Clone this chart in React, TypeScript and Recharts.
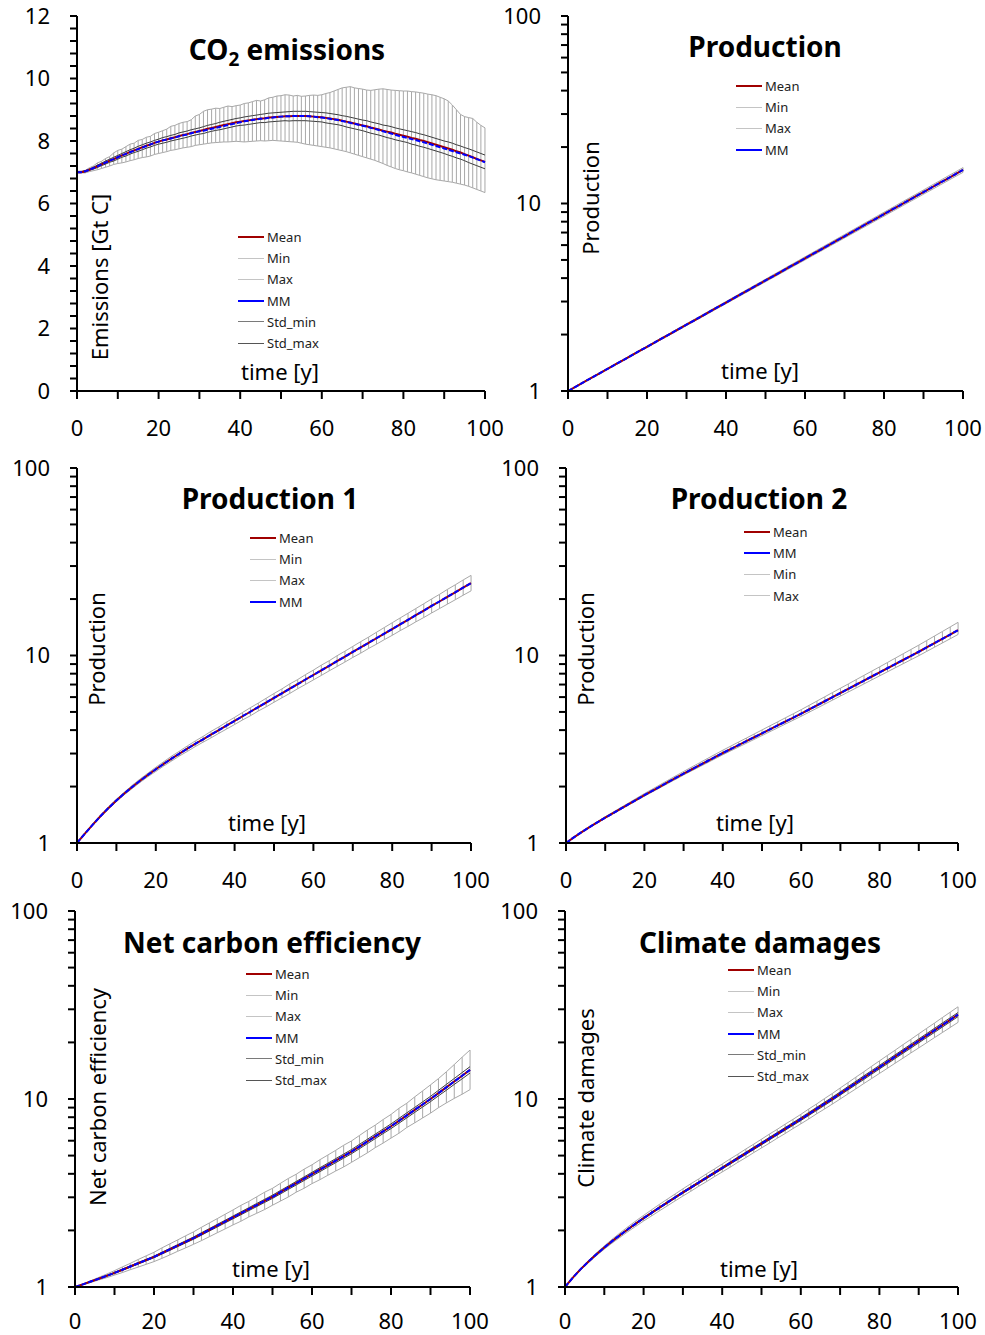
import React from "react";
import { ComposedChart, Line, Bar, XAxis, YAxis } from "recharts";

// time axes: yearly for the emissions panel, every 2 years for the others
const years1 = Array.from({ length: 101 }, (_, i) => i);
const years2 = Array.from({ length: 51 }, (_, i) => i * 2);

// ---- CO2 emissions [Gt C] ----
const mean1 = [
  7.00, 7.00, 7.03, 7.08, 7.13, 7.19, 7.25, 7.31, 7.37, 7.42,
  7.48, 7.54, 7.59, 7.65, 7.70, 7.75, 7.80, 7.85, 7.89, 7.94,
  7.98, 8.02, 8.05, 8.09, 8.12, 8.16, 8.19, 8.22, 8.26, 8.29,
  8.32, 8.35, 8.39, 8.42, 8.45, 8.48, 8.51, 8.54, 8.57, 8.60,
  8.62, 8.64, 8.66, 8.68, 8.70, 8.72, 8.73, 8.75, 8.76, 8.77,
  8.78, 8.79, 8.79, 8.80, 8.80, 8.80, 8.80, 8.79, 8.78, 8.77,
  8.76, 8.74, 8.72, 8.70, 8.68, 8.65, 8.62, 8.59, 8.56, 8.53,
  8.50, 8.47, 8.43, 8.40, 8.37, 8.33, 8.30, 8.27, 8.23, 8.20,
  8.17, 8.14, 8.10, 8.07, 8.03, 8.00, 7.96, 7.92, 7.88, 7.84,
  7.80, 7.76, 7.72, 7.67, 7.63, 7.58, 7.53, 7.48, 7.43, 7.38,
  7.33,
];
const mm1 = [
  7.00, 7.00, 7.03, 7.08, 7.13, 7.19, 7.25, 7.31, 7.37, 7.42,
  7.48, 7.54, 7.59, 7.64, 7.69, 7.74, 7.79, 7.84, 7.89, 7.94,
  7.98, 8.02, 8.05, 8.08, 8.11, 8.15, 8.18, 8.21, 8.25, 8.28,
  8.31, 8.33, 8.36, 8.39, 8.42, 8.45, 8.48, 8.51, 8.54, 8.57,
  8.60, 8.63, 8.65, 8.67, 8.69, 8.71, 8.72, 8.74, 8.75, 8.77,
  8.78, 8.79, 8.79, 8.80, 8.80, 8.80, 8.80, 8.79, 8.78, 8.76,
  8.75, 8.73, 8.71, 8.69, 8.67, 8.64, 8.61, 8.58, 8.55, 8.52,
  8.49, 8.46, 8.42, 8.39, 8.35, 8.31, 8.27, 8.24, 8.20, 8.16,
  8.13, 8.10, 8.06, 8.03, 7.99, 7.96, 7.92, 7.88, 7.84, 7.80,
  7.76, 7.72, 7.68, 7.64, 7.60, 7.56, 7.52, 7.47, 7.42, 7.37,
  7.32,
];
const smax1 = [
  7.01, 7.01, 7.05, 7.10, 7.16, 7.23, 7.29, 7.36, 7.42, 7.48,
  7.54, 7.60, 7.66, 7.72, 7.77, 7.83, 7.88, 7.93, 7.97, 8.02,
  8.06, 8.11, 8.14, 8.18, 8.21, 8.26, 8.29, 8.32, 8.36, 8.39,
  8.42, 8.46, 8.50, 8.53, 8.56, 8.60, 8.63, 8.66, 8.69, 8.72,
  8.74, 8.77, 8.79, 8.81, 8.83, 8.85, 8.87, 8.89, 8.90, 8.91,
  8.92, 8.93, 8.94, 8.95, 8.95, 8.95, 8.95, 8.94, 8.93, 8.92,
  8.91, 8.90, 8.88, 8.86, 8.84, 8.81, 8.79, 8.76, 8.73, 8.70,
  8.67, 8.65, 8.61, 8.58, 8.55, 8.51, 8.49, 8.46, 8.42, 8.39,
  8.36, 8.33, 8.30, 8.27, 8.23, 8.20, 8.16, 8.12, 8.08, 8.04,
  8.00, 7.97, 7.93, 7.88, 7.84, 7.79, 7.75, 7.70, 7.65, 7.60,
  7.55,
];
const smin1 = [
  6.99, 6.99, 7.01, 7.06, 7.10, 7.15, 7.21, 7.26, 7.32, 7.36,
  7.42, 7.48, 7.52, 7.58, 7.63, 7.67, 7.72, 7.77, 7.81, 7.86,
  7.90, 7.93, 7.96, 8.00, 8.03, 8.06, 8.09, 8.12, 8.16, 8.19,
  8.22, 8.24, 8.28, 8.31, 8.34, 8.36, 8.39, 8.42, 8.45, 8.48,
  8.50, 8.51, 8.53, 8.55, 8.57, 8.59, 8.59, 8.61, 8.62, 8.63,
  8.64, 8.65, 8.64, 8.65, 8.65, 8.65, 8.65, 8.64, 8.63, 8.62,
  8.61, 8.58, 8.56, 8.54, 8.52, 8.49, 8.45, 8.42, 8.39, 8.36,
  8.33, 8.29, 8.25, 8.22, 8.19, 8.15, 8.11, 8.08, 8.04, 8.01,
  7.98, 7.95, 7.90, 7.87, 7.83, 7.80, 7.76, 7.72, 7.68, 7.64,
  7.60, 7.55, 7.51, 7.46, 7.42, 7.37, 7.31, 7.26, 7.21, 7.16,
  7.11,
];
const max1 = [
  7.03, 7.04, 7.06, 7.14, 7.20, 7.30, 7.35, 7.44, 7.50, 7.62,
  7.70, 7.74, 7.82, 7.90, 7.93, 8.02, 8.05, 8.12, 8.15, 8.24,
  8.28, 8.33, 8.38, 8.47, 8.50, 8.56, 8.60, 8.62, 8.68, 8.80,
  8.85, 8.95, 9.00, 9.02, 9.05, 9.04, 9.08, 9.12, 9.10, 9.13,
  9.15, 9.20, 9.22, 9.26, 9.30, 9.28, 9.32, 9.38, 9.40, 9.44,
  9.45, 9.48, 9.47, 9.44, 9.46, 9.43, 9.44, 9.46, 9.47, 9.46,
  9.48, 9.52, 9.55, 9.60, 9.65, 9.70, 9.72, 9.74, 9.70, 9.68,
  9.66, 9.63, 9.62, 9.64, 9.66, 9.67, 9.65, 9.63, 9.62, 9.61,
  9.60, 9.60, 9.58, 9.57, 9.55, 9.53, 9.50, 9.48, 9.45, 9.40,
  9.35, 9.28, 9.15, 9.00, 8.85, 8.78, 8.75, 8.72, 8.60, 8.50,
  8.42,
];
const min1 = [
  6.98, 6.98, 6.98, 7.02, 7.05, 7.08, 7.12, 7.16, 7.20, 7.25,
  7.28, 7.30, 7.33, 7.37, 7.40, 7.44, 7.47, 7.49, 7.52, 7.57,
  7.60, 7.63, 7.66, 7.70, 7.72, 7.75, 7.78, 7.80, 7.82, 7.86,
  7.88, 7.90, 7.92, 7.94, 7.95, 7.96, 7.97, 7.97, 7.98, 7.99,
  7.98, 7.97, 7.98, 7.99, 8.00, 8.01, 8.00, 8.01, 8.02, 8.01,
  8.00, 7.99, 7.98, 7.97, 7.96, 7.93, 7.90, 7.88, 7.86, 7.84,
  7.82, 7.80, 7.78, 7.75, 7.72, 7.69, 7.66, 7.62, 7.58, 7.54,
  7.50, 7.46, 7.42, 7.38, 7.33, 7.28, 7.22, 7.17, 7.12, 7.08,
  7.05, 7.01, 6.98, 6.94, 6.90, 6.86, 6.82, 6.79, 6.76, 6.74,
  6.72, 6.70, 6.68, 6.65, 6.62, 6.59, 6.55, 6.50, 6.45, 6.40,
  6.35,
];

// ---- Production ----
const mean2 = [
  1.000, 1.056, 1.115, 1.177, 1.243, 1.312, 1.385, 1.463, 1.544, 1.630,
  1.721, 1.817, 1.919, 2.026, 2.139, 2.258, 2.384, 2.517, 2.658, 2.806,
  2.962, 3.128, 3.302, 3.486, 3.681, 3.886, 4.103, 4.332, 4.574, 4.829,
  5.098, 5.383, 5.683, 6.000, 6.335, 6.688, 7.062, 7.456, 7.872, 8.311,
  8.774, 9.264, 9.781, 10.33, 10.90, 11.51, 12.15, 12.83, 13.55, 14.30,
  15.10,
];
const max2 = [
  1.000, 1.060, 1.121, 1.183, 1.250, 1.320, 1.395, 1.473, 1.556, 1.643,
  1.736, 1.833, 1.938, 2.046, 2.163, 2.283, 2.413, 2.547, 2.693, 2.842,
  3.003, 3.172, 3.352, 3.538, 3.740, 3.948, 4.173, 4.406, 4.656, 4.916,
  5.195, 5.485, 5.797, 6.120, 6.468, 6.828, 7.217, 7.620, 8.053, 8.502,
  8.985, 9.486, 10.03, 10.59, 11.18, 11.81, 12.48, 13.18, 13.93, 14.70,
  15.54,
];
const min2 = [
  1.000, 1.052, 1.109, 1.171, 1.236, 1.304, 1.375, 1.453, 1.532, 1.617,
  1.706, 1.801, 1.900, 2.006, 2.115, 2.233, 2.355, 2.487, 2.623, 2.770,
  2.921, 3.084, 3.252, 3.434, 3.622, 3.824, 4.033, 4.258, 4.492, 4.742,
  5.001, 5.281, 5.569, 5.880, 6.202, 6.548, 6.907, 7.292, 7.691, 8.120,
  8.563, 9.042, 9.536, 10.07, 10.62, 11.21, 11.82, 12.48, 13.17, 13.90,
  14.66,
];

// ---- Production 1 ----
const mean3 = [
  1.000, 1.122, 1.253, 1.393, 1.538, 1.687, 1.837, 1.991, 2.148, 2.307,
  2.472, 2.642, 2.818, 2.999, 3.184, 3.381, 3.573, 3.784, 3.999, 4.236,
  4.477, 4.742, 5.012, 5.309, 5.610, 5.943, 6.281, 6.653, 7.031, 7.447,
  7.870, 8.337, 8.810, 9.333, 9.863, 10.45, 11.04, 11.69, 12.36, 13.09,
  13.84, 14.66, 15.49, 16.41, 17.34, 18.37, 19.41, 20.56, 21.73, 23.01,
  24.32,
];
const max3 = [
  1.000, 1.126, 1.262, 1.406, 1.558, 1.712, 1.866, 2.031, 2.193, 2.358,
  2.536, 2.713, 2.903, 3.089, 3.292, 3.499, 3.702, 3.939, 4.159, 4.422,
  4.678, 4.965, 5.268, 5.574, 5.913, 6.270, 6.633, 7.052, 7.439, 7.909,
  8.358, 8.879, 9.374, 9.968, 10.54, 11.18, 11.85, 12.53, 13.30, 14.10,
  14.95, 15.85, 16.79, 17.80, 18.87, 20.02, 21.18, 22.51, 23.82, 25.27,
  26.75,
];
const min3 = [
  1.000, 1.118, 1.244, 1.381, 1.518, 1.662, 1.808, 1.952, 2.104, 2.257,
  2.409, 2.573, 2.736, 2.912, 3.079, 3.267, 3.449, 3.635, 3.845, 4.057,
  4.284, 4.529, 4.769, 5.056, 5.323, 5.633, 5.948, 6.276, 6.646, 7.012,
  7.411, 7.828, 8.280, 8.739, 9.226, 9.766, 10.29, 10.90, 11.49, 12.15,
  12.81, 13.56, 14.29, 15.12, 15.94, 16.85, 17.79, 18.78, 19.83, 20.96,
  22.11,
];

// ---- Production 2 ----
const mean4 = [
  1.000, 1.072, 1.143, 1.216, 1.288, 1.365, 1.442, 1.524, 1.611, 1.702,
  1.799, 1.897, 2.000, 2.109, 2.223, 2.344, 2.466, 2.594, 2.729, 2.871,
  3.020, 3.170, 3.327, 3.491, 3.664, 3.846, 4.036, 4.236, 4.446, 4.667,
  4.898, 5.152, 5.420, 5.702, 5.998, 6.310, 6.637, 6.982, 7.345, 7.727,
  8.128, 8.551, 8.995, 9.462, 9.954, 10.47, 11.04, 11.64, 12.27, 12.94,
  13.65,
];
const max4 = [
  1.000, 1.075, 1.149, 1.225, 1.300, 1.381, 1.461, 1.547, 1.637, 1.733,
  1.835, 1.937, 2.046, 2.160, 2.281, 2.407, 2.538, 2.672, 2.816, 2.966,
  3.126, 3.284, 3.453, 3.627, 3.814, 4.008, 4.214, 4.427, 4.655, 4.891,
  5.143, 5.420, 5.713, 6.021, 6.346, 6.689, 7.048, 7.429, 7.830, 8.252,
  8.697, 9.175, 9.679, 10.21, 10.77, 11.36, 12.01, 12.70, 13.42, 14.20,
  15.02,
];
const min4 = [
  1.000, 1.070, 1.140, 1.211, 1.282, 1.355, 1.430, 1.510, 1.595, 1.683,
  1.777, 1.872, 1.972, 2.077, 2.187, 2.304, 2.422, 2.545, 2.674, 2.811,
  2.954, 3.097, 3.247, 3.404, 3.569, 3.742, 3.923, 4.113, 4.313, 4.522,
  4.741, 4.982, 5.236, 5.502, 5.782, 6.076, 6.385, 6.710, 7.051, 7.410,
  7.787, 8.183, 8.599, 9.036, 9.496, 9.977, 10.51, 11.07, 11.66, 12.28,
  12.94,
];

// ---- Net carbon efficiency ----
const mean5 = [
  1.000, 1.033, 1.069, 1.107, 1.146, 1.189, 1.236, 1.285, 1.337, 1.390,
  1.445, 1.514, 1.585, 1.660, 1.738, 1.820, 1.914, 2.014, 2.118, 2.228,
  2.344, 2.466, 2.594, 2.729, 2.871, 3.020, 3.192, 3.373, 3.565, 3.767,
  3.981, 4.207, 4.446, 4.699, 4.966, 5.248, 5.585, 5.943, 6.324, 6.730,
  7.161, 7.656, 8.185, 8.750, 9.354, 10.00, 10.74, 11.53, 12.39, 13.30,
  14.29,
];
const max5 = [
  1.000, 1.039, 1.080, 1.125, 1.171, 1.222, 1.279, 1.336, 1.401, 1.464,
  1.530, 1.614, 1.696, 1.780, 1.872, 1.964, 2.077, 2.191, 2.309, 2.437,
  2.569, 2.718, 2.853, 3.018, 3.193, 3.349, 3.559, 3.778, 3.979, 4.234,
  4.467, 4.754, 5.033, 5.333, 5.671, 5.983, 6.395, 6.834, 7.260, 7.773,
  8.278, 8.919, 9.495, 10.26, 11.04, 11.89, 12.83, 13.95, 15.24, 16.69,
  18.21,
];
const min5 = [
  1.000, 1.027, 1.058, 1.090, 1.121, 1.157, 1.194, 1.236, 1.276, 1.320,
  1.365, 1.420, 1.481, 1.549, 1.614, 1.687, 1.764, 1.851, 1.943, 2.037,
  2.139, 2.238, 2.358, 2.467, 2.582, 2.723, 2.863, 3.012, 3.194, 3.351,
  3.548, 3.723, 3.928, 4.140, 4.349, 4.604, 4.878, 5.168, 5.509, 5.827,
  6.195, 6.572, 7.056, 7.466, 7.927, 8.410, 8.987, 9.529, 10.07, 10.60,
  11.22,
];
const smax5 = [
  1.000, 1.034, 1.071, 1.111, 1.152, 1.196, 1.245, 1.295, 1.349, 1.403,
  1.459, 1.531, 1.604, 1.680, 1.761, 1.845, 1.943, 2.044, 2.152, 2.264,
  2.384, 2.510, 2.641, 2.781, 2.926, 3.080, 3.259, 3.444, 3.643, 3.850,
  4.073, 4.308, 4.553, 4.816, 5.090, 5.384, 5.736, 6.103, 6.501, 6.918,
  7.369, 7.886, 8.439, 9.021, 9.653, 10.33, 11.11, 11.95, 12.85, 13.82,
  14.86,
];
const smin5 = [
  1.000, 1.032, 1.067, 1.103, 1.140, 1.182, 1.227, 1.275, 1.325, 1.378,
  1.431, 1.498, 1.566, 1.640, 1.716, 1.795, 1.886, 1.984, 2.085, 2.193,
  2.305, 2.422, 2.548, 2.678, 2.817, 2.961, 3.126, 3.304, 3.488, 3.686,
  3.892, 4.108, 4.342, 4.584, 4.845, 5.115, 5.438, 5.787, 6.152, 6.547,
  6.959, 7.433, 7.939, 8.487, 9.064, 9.681, 10.39, 11.13, 11.95, 12.80,
  13.74,
];

// ---- Climate damages ----
const mean6 = [
  1.000, 1.122, 1.245, 1.368, 1.493, 1.622, 1.754, 1.888, 2.028, 2.173,
  2.323, 2.477, 2.642, 2.812, 2.992, 3.184, 3.381, 3.589, 3.811, 4.046,
  4.295, 4.560, 4.842, 5.140, 5.458, 5.794, 6.152, 6.531, 6.934, 7.362,
  7.816, 8.318, 8.851, 9.419, 10.02, 10.69, 11.40, 12.16, 12.97, 13.84,
  14.76, 15.74, 16.79, 17.91, 19.10, 20.37, 21.73, 23.17, 24.72, 26.36,
  28.12,
];
const max6 = [
  1.000, 1.128, 1.256, 1.386, 1.518, 1.654, 1.796, 1.939, 2.089, 2.245,
  2.404, 2.571, 2.748, 2.930, 3.121, 3.327, 3.540, 3.754, 3.998, 4.240,
  4.510, 4.797, 5.089, 5.418, 5.747, 6.113, 6.503, 6.897, 7.343, 7.789,
  8.285, 8.842, 9.400, 10.04, 10.69, 11.44, 12.21, 13.06, 13.94, 14.92,
  15.94, 17.03, 18.18, 19.45, 20.76, 22.20, 23.73, 25.32, 27.09, 28.94,
  30.93,
];
const min6 = [
  1.000, 1.116, 1.234, 1.350, 1.468, 1.590, 1.713, 1.838, 1.969, 2.104,
  2.244, 2.386, 2.540, 2.699, 2.869, 3.047, 3.229, 3.431, 3.633, 3.861,
  4.090, 4.335, 4.607, 4.877, 5.183, 5.492, 5.820, 6.185, 6.548, 6.958,
  7.374, 7.825, 8.334, 8.836, 9.391, 9.991, 10.64, 11.32, 12.07, 12.84,
  13.67, 14.55, 15.50, 16.49, 17.57, 18.69, 19.90, 21.20, 22.55, 24.01,
  25.56,
];
const smax6 = [
  1.000, 1.123, 1.247, 1.372, 1.499, 1.630, 1.765, 1.899, 2.042, 2.188,
  2.342, 2.497, 2.666, 2.837, 3.022, 3.216, 3.418, 3.628, 3.857, 4.095,
  4.351, 4.619, 4.910, 5.212, 5.540, 5.881, 6.250, 6.635, 7.052, 7.487,
  7.957, 8.468, 9.019, 9.598, 10.22, 10.90, 11.64, 12.42, 13.26, 14.14,
  15.08, 16.10, 17.18, 18.32, 19.56, 20.86, 22.25, 23.75, 25.34, 27.02,
  28.82,
];
const smin6 = [
  1.000, 1.121, 1.243, 1.364, 1.487, 1.614, 1.744, 1.877, 2.014, 2.158,
  2.305, 2.457, 2.618, 2.787, 2.962, 3.152, 3.344, 3.550, 3.766, 3.998,
  4.240, 4.501, 4.775, 5.069, 5.377, 5.708, 6.055, 6.428, 6.818, 7.239,
  7.678, 8.171, 8.686, 9.243, 9.824, 10.48, 11.17, 11.91, 12.69, 13.54,
  14.44, 15.39, 16.41, 17.51, 18.65, 19.89, 21.22, 22.60, 24.12, 25.72,
  27.43,
];

// axis ticks
const xTicks = [0, 10, 20, 30, 40, 50, 60, 70, 80, 90, 100];
const linTicks = Array.from({ length: 31 }, (_, i) => Number((i * 0.4).toFixed(1)));
const logTicks = [1, 2, 3, 4, 5, 6, 7, 8, 9, 10, 20, 30, 40, 50, 60, 70, 80, 90, 100];

const FONT = "'Noto Sans', sans-serif";
const C_MEAN = "#a00000";
const C_MM = "#0000ff";
const C_MINMAX = "#a8a8a8";
const C_STD = "#3c3c3c";

// chart frame around each plot area
const M_TOP = 20, M_RIGHT = 30, M_LEFT = 30, M_BOTTOM = 20, Y_W = 60, X_H = 50;

type Row = Record<string, any>;

function buildRows(years: number[], mean: number[], mm: number[], min: number[], max: number[], smin?: number[], smax?: number[]): Row[] {
  return years.map((t, i) => ({
    t,
    mean: mean[i],
    mm: mm[i],
    min: min[i],
    max: max[i],
    smin: smin ? smin[i] : undefined,
    smax: smax ? smax[i] : undefined,
    range: [min[i], max[i]],
  }));
}

// vertical min-max whisker at each time step
const Whisker = (props: any) => {
  const { x, y, width, height } = props;
  if (x == null || y == null) return null;
  const cx = x + width / 2;
  const top = Math.min(y, y + height);
  const bot = Math.max(y, y + height);
  return <line x1={cx} x2={cx} y1={top} y2={bot} stroke={C_MINMAX} strokeWidth={1} />;
};

type LegendItem = { name: string; color: string; w: number };
const L_MEAN: LegendItem = { name: "Mean", color: C_MEAN, w: 2 };
const L_MIN: LegendItem = { name: "Min", color: "#c4c4c4", w: 1.5 };
const L_MAX: LegendItem = { name: "Max", color: "#c4c4c4", w: 1.5 };
const L_MM: LegendItem = { name: "MM", color: C_MM, w: 2 };
const L_SMIN: LegendItem = { name: "Std_min", color: "#7a7a7a", w: 1.5 };
const L_SMAX: LegendItem = { name: "Std_max", color: "#555555", w: 1.5 };

type PanelSpec = {
  rows: Row[];
  log: boolean;
  std: boolean;
  x0: number; x1: number; y0: number; y1: number;
  xTickMargin: number;
  title: React.ReactNode; titleX: number; titleY: number;
  ylabel: string; ylabelX: number; ylabelY: number;
  timeX: number; timeY: number;
  legendX: number; legendY: number; legend: LegendItem[];
};

const axisStyle = {
  axisLine: { stroke: "#000", strokeWidth: 2 },
  tickLine: { stroke: "#000", strokeWidth: 2 },
  tick: { fontSize: 22, fill: "#000", fontFamily: FONT },
};

function Panel({ p }: { p: PanelSpec }) {
  const w = p.x1 - p.x0 + M_LEFT + Y_W + M_RIGHT;
  const h = p.y1 - p.y0 + M_TOP + X_H + M_BOTTOM;
  const abs = (x: number, y: number): React.CSSProperties => ({
    position: "absolute", left: x, top: y, transform: "translate(-50%, -50%)", whiteSpace: "nowrap", lineHeight: 1,
  });
  return (
    <>
      <div style={{ position: "absolute", left: p.x0 - M_LEFT - Y_W, top: p.y0 - M_TOP }}>
        <ComposedChart width={w} height={h} data={p.rows} margin={{ top: M_TOP, right: M_RIGHT, bottom: M_BOTTOM, left: M_LEFT }}>
          <XAxis
            dataKey="t" type="number" domain={[0, 100]} ticks={xTicks} interval={0}
            tickFormatter={(v: number) => (v % 20 === 0 ? String(v) : "")}
            tickSize={8} tickMargin={p.xTickMargin} height={X_H} {...axisStyle}
          />
          {p.log ? (
            <YAxis
              type="number" scale="log" domain={[1, 100]} ticks={logTicks} interval={0} allowDataOverflow
              tickFormatter={(v: number) => (v === 1 || v === 10 || v === 100 ? String(v) : "")}
              tickSize={7} tickMargin={20} width={Y_W} {...axisStyle}
            />
          ) : (
            <YAxis
              type="number" domain={[0, 12]} ticks={linTicks} interval={0} allowDataOverflow
              tickFormatter={(v: number) => (Math.round(v * 10) % 20 === 0 ? String(v) : "")}
              tickSize={7} tickMargin={20} width={Y_W} {...axisStyle}
            />
          )}
          <Bar dataKey="range" barSize={2} shape={Whisker} isAnimationActive={false} />
          <Line type="linear" dataKey="min" stroke={C_MINMAX} strokeWidth={1} dot={false} isAnimationActive={false} />
          <Line type="linear" dataKey="max" stroke={C_MINMAX} strokeWidth={1} dot={false} isAnimationActive={false} />
          {p.std && <Line type="linear" dataKey="smin" stroke={C_STD} strokeWidth={1} dot={false} isAnimationActive={false} />}
          {p.std && <Line type="linear" dataKey="smax" stroke={C_STD} strokeWidth={1} dot={false} isAnimationActive={false} />}
          <Line type="linear" dataKey="mean" stroke={C_MEAN} strokeWidth={2} dot={false} isAnimationActive={false} />
          <Line type="linear" dataKey="mm" stroke={C_MM} strokeWidth={2} strokeDasharray="5 2" dot={false} isAnimationActive={false} />
        </ComposedChart>
      </div>
      <div style={{ ...abs(p.titleX, p.titleY), fontFamily: FONT, fontWeight: 700, fontSize: 28, color: "#000" }}>{p.title}</div>
      <div style={{ ...abs(p.ylabelX, p.ylabelY), transform: "translate(-50%, -50%) rotate(-90deg)", fontFamily: FONT, fontSize: 22, color: "#000" }}>{p.ylabel}</div>
      <div style={{ ...abs(p.timeX, p.timeY), fontFamily: FONT, fontSize: 22, color: "#000" }}>time [y]</div>
      {p.legend.map((it, i) => (
        <div key={it.name} style={{ position: "absolute", left: p.legendX, top: p.legendY + i * 21.2 - 8, height: 16, display: "flex", alignItems: "center" }}>
          <div style={{ width: 26, height: 0, borderTop: `${it.w}px solid ${it.color}` }} />
          <span style={{ marginLeft: 3, fontFamily: FONT, fontSize: 13, color: "#222" }}>{it.name}</span>
        </div>
      ))}
    </>
  );
}

const panels: PanelSpec[] = [
  {
    rows: buildRows(years1, mean1, mm1, min1, max1, smin1, smax1), log: false, std: true,
    x0: 77, x1: 485, y0: 16, y1: 391, xTickMargin: 21,
    title: <>CO<span style={{ fontSize: 19, position: "relative", top: 6 }}>2</span> emissions</>, titleX: 287, titleY: 49,
    ylabel: "Emissions [Gt C]", ylabelX: 99, ylabelY: 277, timeX: 280, timeY: 371,
    legendX: 238, legendY: 237, legend: [L_MEAN, L_MIN, L_MAX, L_MM, L_SMIN, L_SMAX],
  },
  {
    rows: buildRows(years2, mean2, mean2, min2, max2), log: true, std: false,
    x0: 568, x1: 963, y0: 16, y1: 391, xTickMargin: 21,
    title: "Production", titleX: 765, titleY: 46,
    ylabel: "Production", ylabelX: 590, ylabelY: 198, timeX: 760, timeY: 370,
    legendX: 736, legendY: 86, legend: [L_MEAN, L_MIN, L_MAX, L_MM],
  },
  {
    rows: buildRows(years2, mean3, mean3, min3, max3), log: true, std: false,
    x0: 77, x1: 471, y0: 468, y1: 843, xTickMargin: 21,
    title: "Production 1", titleX: 270, titleY: 498,
    ylabel: "Production", ylabelX: 96, ylabelY: 649, timeX: 267, timeY: 822,
    legendX: 250, legendY: 538, legend: [L_MEAN, L_MIN, L_MAX, L_MM],
  },
  {
    rows: buildRows(years2, mean4, mean4, min4, max4), log: true, std: false,
    x0: 566, x1: 958, y0: 468, y1: 843, xTickMargin: 21,
    title: "Production 2", titleX: 759, titleY: 498,
    ylabel: "Production", ylabelX: 585, ylabelY: 649, timeX: 755, timeY: 822,
    legendX: 744, legendY: 532, legend: [L_MEAN, L_MM, L_MIN, L_MAX],
  },
  {
    rows: buildRows(years2, mean5, mean5, min5, max5, smin5, smax5), log: true, std: true,
    x0: 75, x1: 470, y0: 911, y1: 1287, xTickMargin: 18,
    title: "Net carbon efficiency", titleX: 272, titleY: 942,
    ylabel: "Net carbon efficiency", ylabelX: 97, ylabelY: 1097, timeX: 271, timeY: 1268,
    legendX: 246, legendY: 974, legend: [L_MEAN, L_MIN, L_MAX, L_MM, L_SMIN, L_SMAX],
  },
  {
    rows: buildRows(years2, mean6, mean6, min6, max6, smin6, smax6), log: true, std: true,
    x0: 565, x1: 958, y0: 911, y1: 1287, xTickMargin: 18,
    title: "Climate damages", titleX: 760, titleY: 942,
    ylabel: "Climate damages", ylabelX: 585, ylabelY: 1098, timeX: 759, timeY: 1268,
    legendX: 728, legendY: 970, legend: [L_MEAN, L_MIN, L_MAX, L_MM, L_SMIN, L_SMAX],
  },
];

export default function App() {
  return (
    <div style={{ position: "absolute", left: 0, top: 0, width: 985, height: 1335, background: "#fff", overflow: "hidden" }}>
      {panels.map((p, i) => (
        <Panel key={i} p={p} />
      ))}
    </div>
  );
}
